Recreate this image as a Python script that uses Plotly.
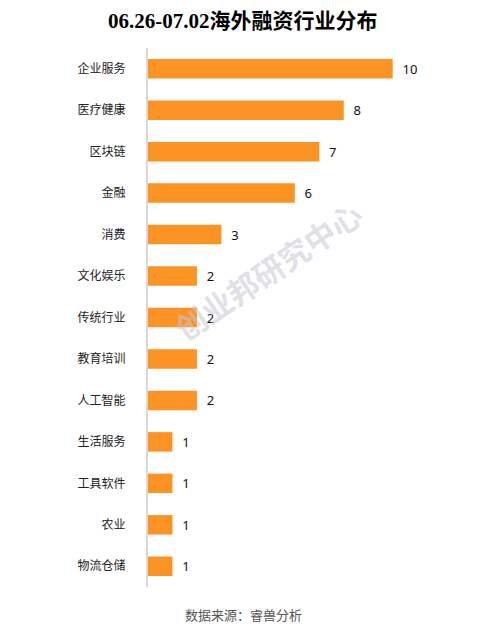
import plotly.graph_objects as go

# Datos del gráfico
categorias = ['企业服务', '医疗健康', '区块链', '金融', '消费', '文化娱乐', '传统行业',
              '教育培训', '人工智能', '生活服务', '工具软件', '农业', '物流仓储']
valores = [10, 8, 7, 6, 3, 2, 2, 2, 2, 1, 1, 1, 1]

titulo = '06.26-07.02海外融资行业分布'
fuente = '数据来源：睿兽分析'
marca_agua = '创业邦研究中心'

# tamaño de figura y márgenes (la página tiene 8px de margen en el body)
W, H = 478, 633
ML, MR, MT, MB = 140, 26, 40, 54
ancho_plot = W - ML - MR
alto_plot = H - MT - MB


def px_x(x):
    return (x - ML) / ancho_plot


def px_y(y):
    return (H - MB - y) / alto_plot


fig = go.Figure(go.Bar(
    x=valores,
    y=categorias,
    orientation='h',
    width=0.47,
    marker=dict(color='#FB9424', line=dict(width=0)),
    text=[f'  {v}' for v in valores],
    textposition='outside',
    cliponaxis=False,
    textfont=dict(size=13, color='#111111', family='Noto Sans, Arial'),
    hoverinfo='skip',
))

fig.update_layout(
    width=W,
    height=H,
    margin=dict(l=ML, r=MR, t=MT, b=MB),
    paper_bgcolor='white',
    plot_bgcolor='white',
    showlegend=False,
    font=dict(family='Noto Sans CJK SC, Noto Sans, sans-serif', size=12, color='#333333'),
    xaxis=dict(range=[0, 12.75], visible=False, fixedrange=True),
    yaxis=dict(
        autorange='reversed',
        showline=True,
        linecolor='#D9D9D9',
        linewidth=2,
        ticks='',
        ticklabelstandoff=18,
        tickfont=dict(size=12, color='#222222', family='Noto Sans CJK SC'),
        showgrid=False,
        zeroline=False,
    ),
    annotations=[
        dict(text='<b>' + titulo + '</b>', x=px_x(235), y=px_y(13), xref='paper', yref='paper',
             xanchor='center', yanchor='middle', showarrow=False,
             font=dict(size=21, color='#000000', family='Liberation Serif, Noto Sans CJK SC')),
        dict(text=fuente, x=px_x(235), y=px_y(606), xref='paper', yref='paper',
             xanchor='center', yanchor='middle', showarrow=False,
             font=dict(size=13, color='#555555', family='Noto Sans CJK SC')),
        dict(text='<b>' + marca_agua + '</b>', x=px_x(259), y=px_y(262), xref='paper', yref='paper',
             xanchor='center', yanchor='middle', showarrow=False, textangle=-34,
             font=dict(size=31, color='rgba(195,198,215,0.55)', family='Noto Sans CJK SC')),
    ],
)

fig.write_html('out.html')
